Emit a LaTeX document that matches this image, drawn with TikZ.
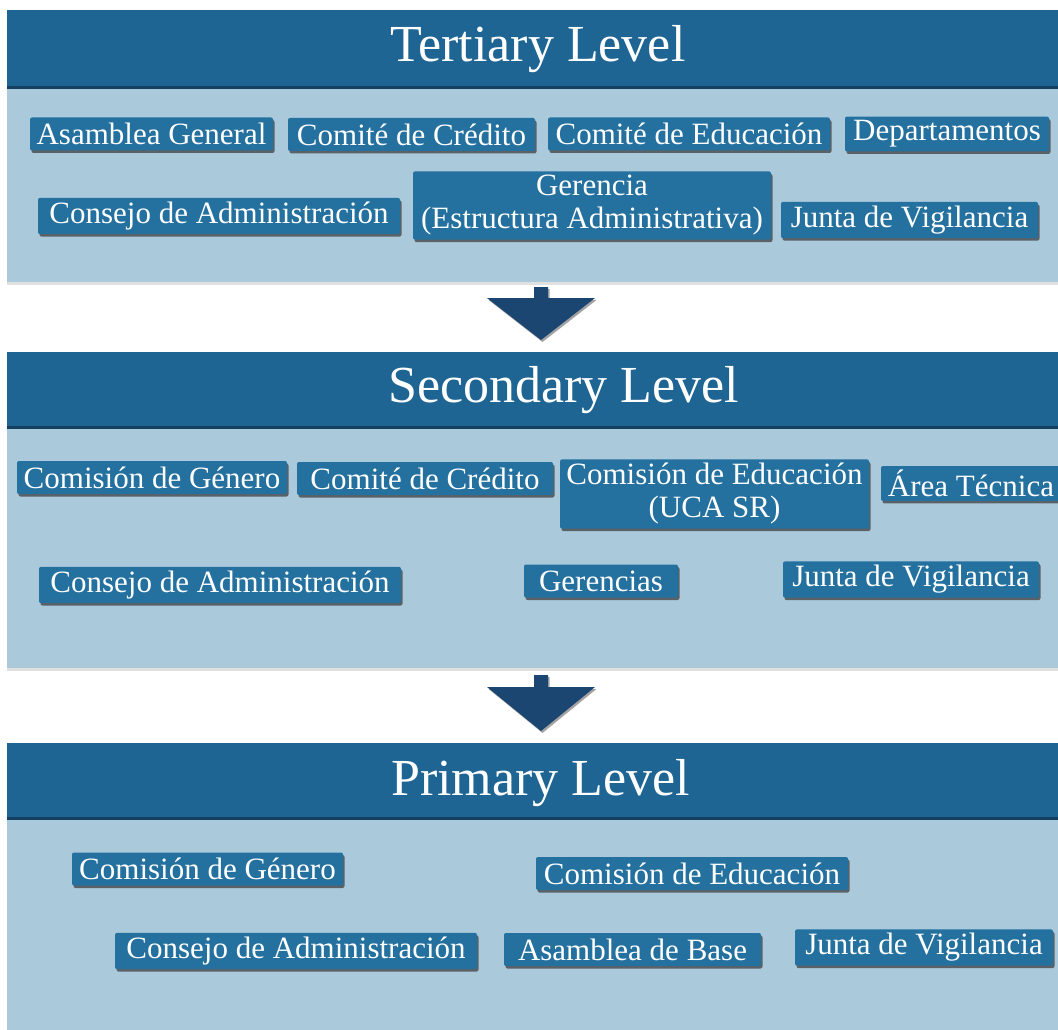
\documentclass[tikz,border=0pt]{standalone}
\usepackage{fontspec}
\setmainfont{Liberation Serif}
\usepackage{tikz}
\usetikzlibrary{shadows}

\definecolor{bandblue}{HTML}{1F6593}
\definecolor{bandedge}{HTML}{143F5E}
\definecolor{panelblue}{HTML}{AACADC}
\definecolor{unitblue}{HTML}{24709F}
\definecolor{pointerblue}{HTML}{1B4672}

\begin{document}
\begin{tikzpicture}[
    x=1pt, y=-1pt,
    band/.style={rectangle, fill=bandblue, anchor=north west, inner sep=0pt,
                 minimum width=1051pt, minimum height=76pt,
                 drop shadow={shadow xshift=0pt, shadow yshift=-2.5pt,
                              fill=bandedge, opacity=1}},
    panel/.style={rectangle, fill=panelblue, anchor=north west, inner sep=0pt,
                  minimum width=1051pt,
                  drop shadow={shadow xshift=0pt, shadow yshift=-3pt,
                               fill=black!12, opacity=1}},
    title/.style={anchor=base west, text=white, inner sep=0pt,
                  font=\fontsize{52pt}{56pt}\selectfont},
    unit/.style={rectangle, fill=unitblue, rounded corners=2pt, text=white,
                 align=center, minimum height=33pt, inner xsep=2pt, inner ysep=4pt,
                 font=\fontsize{31pt}{33pt}\selectfont,
                 drop shadow={shadow xshift=1.5pt, shadow yshift=-2.5pt,
                              fill=black!75, opacity=.75}},
    pointer/.style={fill=pointerblue,
                    drop shadow={shadow xshift=1.5pt, shadow yshift=-2pt,
                                 fill=black!60, opacity=.6}},
]
  \useasboundingbox[fill=white] (0,0) rectangle (1058,1030);

  % tertiary level
  \node[panel, minimum height=196pt] (terbody) at (7,86) {};
  \node[band] (ter) at (7,10) {};
  \node[title] (tertitle) at (390,62) {Tertiary Level};

  \node[unit, minimum width=243pt] (ag)   at (151.5,134)   {Asamblea General};
  \node[unit, minimum width=247pt] (cc)   at (411.5,134.5) {Comité de Crédito};
  \node[unit, minimum width=282pt] (ce)   at (689,134)     {Comité de Educación};
  \node[unit, minimum width=204pt] (dep)  at (947,134)     {Departamentos};
  \node[unit, minimum width=362pt] (cons) at (219,216)     {Consejo de Administración};
  \node[unit, minimum width=358pt] (ger)  at (592,205.5)   {Gerencia\\(Estructura Administrativa)};
  \node[unit, minimum width=257pt] (jv)   at (909.5,220)   {Junta de Vigilancia};

  % tertiary -> secondary
  \fill[pointer] (534,287) -- (548,287) -- (548,298) -- (595,298)
                 -- (541,340) -- (487,298) -- (534,298) -- cycle;

  % secondary level
  \node[panel, minimum height=242pt] (secbody) at (7,426) {};
  \node[band, minimum height=74pt] (sec) at (7,352) {};
  \node[title] (sectitle) at (388,402) {Secondary Level};

  \node[unit, minimum width=270pt] (cg2)   at (152,477.5)   {Comisión de Género};
  \node[unit, minimum width=256pt] (cc2)   at (425,478.5)   {Comité de Crédito};
  \node[unit, minimum width=309pt] (ce2)   at (714.5,494)   {Comisión de Educación\\(UCA SR)};
  \node[unit, minimum width=180pt] (at2)   at (971,483.5)   {Área Técnica};
  \node[unit, minimum width=362pt] (cons2) at (220,585)     {Consejo de Administración};
  \node[unit, minimum width=154pt] (gers)  at (601,581)     {Gerencias};
  \node[unit, minimum width=256pt] (jv2)   at (911,579.5)   {Junta de Vigilancia};

  % secondary -> primary
  \fill[pointer] (534,675) -- (548,675) -- (548,687) -- (595,687)
                 -- (541,731) -- (487,687) -- (534,687) -- cycle;

  % primary level
  \node[panel, minimum height=213pt] (pribody) at (7,817) {};
  \node[band, minimum height=74pt] (pri) at (7,743) {};
  \node[title] (prititle) at (391,795) {Primary Level};

  \node[unit, minimum width=271pt] (cg3)   at (207.5,869)   {Comisión de Género};
  \node[unit, minimum width=312pt] (ce3)   at (692,873.5)   {Comisión de Educación};
  \node[unit, minimum width=362pt] (cons3) at (296,951)     {Consejo de Administración};
  \node[unit, minimum width=257pt] (ab)    at (632.5,949.5) {Asamblea de Base};
  \node[unit, minimum width=258pt] (jv3)   at (924,947.5)   {Junta de Vigilancia};
\end{tikzpicture}
\end{document}
